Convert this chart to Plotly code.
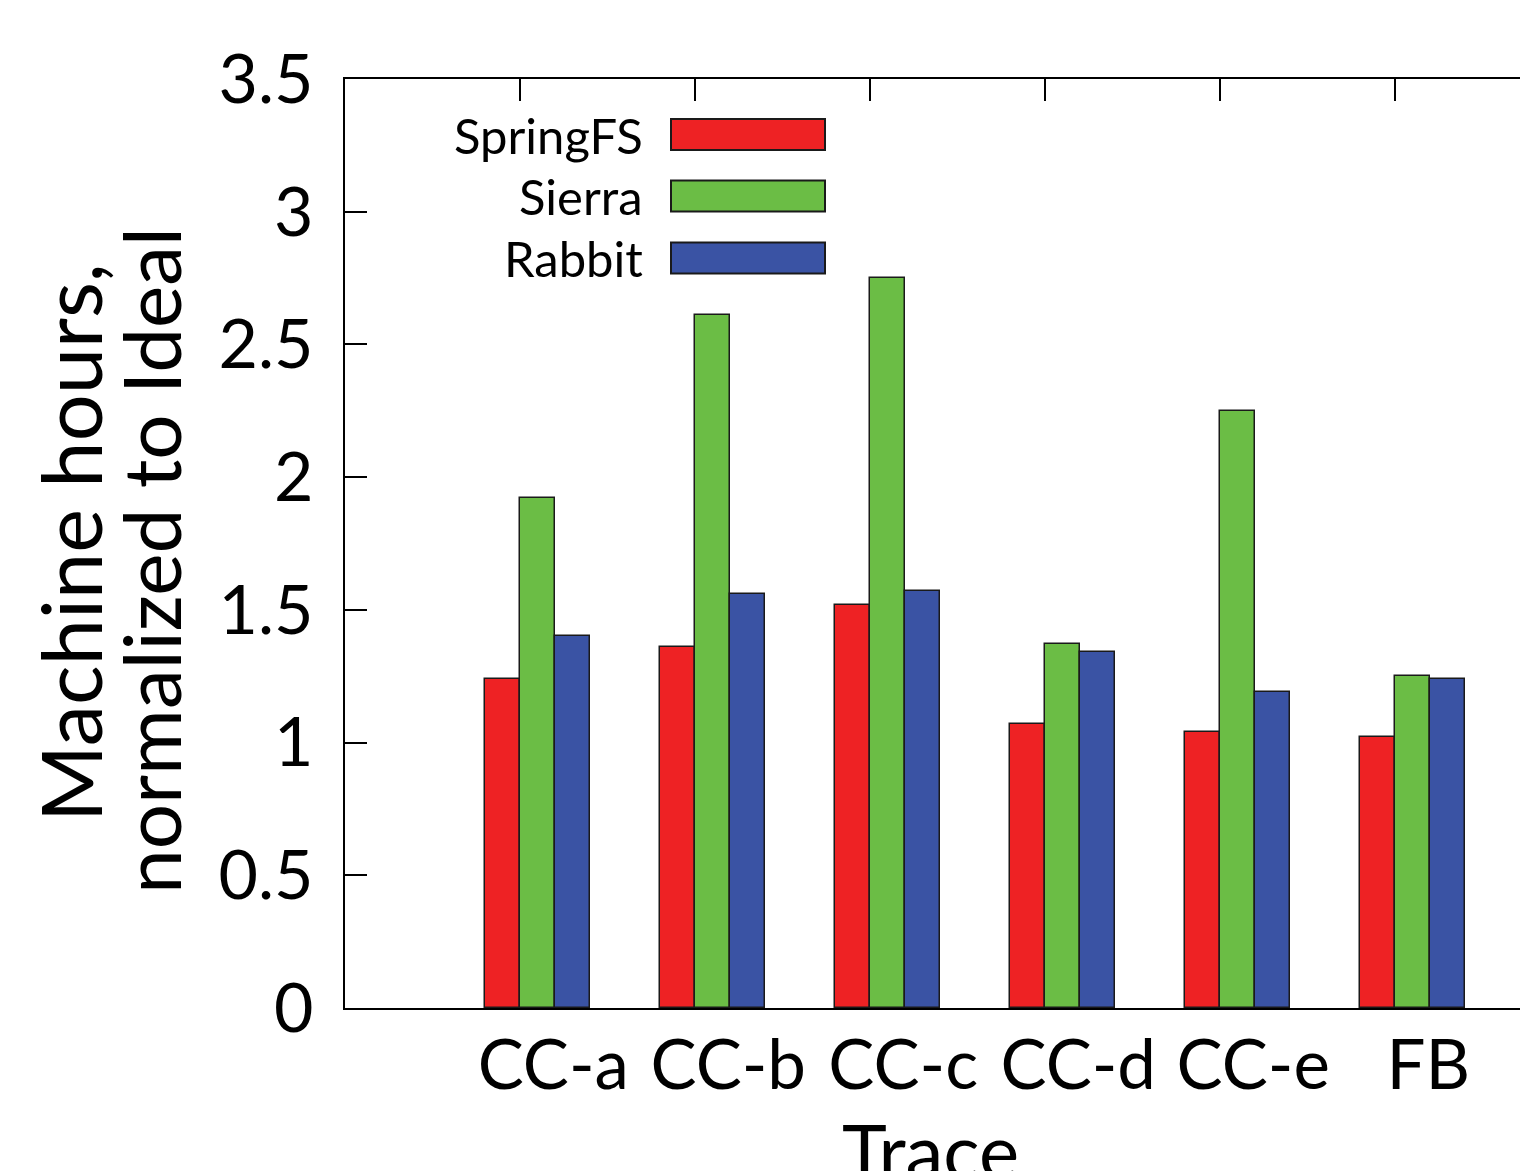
import plotly.graph_objects as go

# ---- data ----
traces = ["CC-a", "CC-b", "CC-c", "CC-d", "CC-e", "FB"]
springfs = [1.24, 1.36, 1.52, 1.07, 1.04, 1.02]
sierra = [1.92, 2.61, 2.75, 1.37, 2.25, 1.25]
rabbit = [1.40, 1.56, 1.57, 1.34, 1.19, 1.24]
series_names = ["SpringFS", "Sierra", "Rabbit"]
y_ticks = [0, 0.5, 1, 1.5, 2, 2.5, 3, 3.5]
y_ticktext = ["0", "0.5", "1", "1.5", "2", "2.5", "3", "3.5"]

colors = ["#EE2224", "#6BBD45", "#3A53A4"]
FONT = "Lato"

W, H = 1520, 1171
L, T, R, B = 345, 79, 0, 163
pw, ph = W - L - R, H - T - B
unit_px = 175.0


def px(x):
    return (x - L) / pw


def py(y):
    return (H - B - y) / ph


pos = list(range(len(traces)))
fig = go.Figure()
for vals, name, col, off in zip([springfs, sierra, rabbit], series_names, colors, [-0.2, 0.0, 0.2]):
    fig.add_trace(go.Bar(
        x=pos, y=vals, name=name, width=0.2, offset=off,
        marker=dict(color=col, line=dict(color="#1a1a1a", width=1.5)),
        showlegend=False,
    ))

# carrier for top axis ticks
fig.add_trace(go.Scatter(x=[pos[0]], y=[0], xaxis="x2", mode="markers",
                         marker=dict(opacity=0), showlegend=False, hoverinfo="skip"))

xr = [-1, -1 + pw / unit_px]

fig.update_layout(
    width=W, height=H,
    margin=dict(l=L, r=R, t=T, b=B, pad=0),
    paper_bgcolor="white", plot_bgcolor="white",
    font=dict(family=FONT, color="black"),
    bargap=0,
    xaxis=dict(range=xr, tickvals=[p + 0.19 for p in pos], ticktext=traces,
               ticks="", showline=True, linecolor="black", linewidth=2,
               showgrid=False, zeroline=False, tickfont=dict(size=69, family=FONT),
               ticklabelstandoff=-4),
    xaxis2=dict(range=xr, overlaying="x", side="top", tickvals=pos,
                ticks="inside", ticklen=22, tickwidth=2, tickcolor="black",
                showticklabels=False, showline=True, linecolor="black", linewidth=2,
                showgrid=False, zeroline=False),
    yaxis=dict(range=[0, 3.5], tickvals=y_ticks, ticktext=y_ticktext,
               ticks="inside", ticklen=22, tickwidth=2, tickcolor="black",
               showline=True, linecolor="black", linewidth=2, showgrid=False,
               zeroline=False, tickfont=dict(size=68, family=FONT),
               ticklabelstandoff=16),
)

# y-axis title (two rotated lines)
fig.add_annotation(text="Machine hours,", xref="paper", yref="paper",
                   x=px(70), y=py(543), xanchor="center", yanchor="middle",
                   textangle=-90, showarrow=False, font=dict(size=83, family=FONT))
fig.add_annotation(text="normalized to Ideal", xref="paper", yref="paper",
                   x=px(150), y=py(561), xanchor="center", yanchor="middle",
                   textangle=-90, showarrow=False, font=dict(size=80, family=FONT))
# x-axis title
fig.add_annotation(text="Trace", xref="paper", yref="paper",
                   x=px(930), y=py(1102), xanchor="center", yanchor="top",
                   showarrow=False, font=dict(size=76, family=FONT))

# legend (text on left, swatch on right)
rows_y = [134.5, 196, 258]
for name, col, yc in zip(series_names, colors, rows_y):
    fig.add_shape(type="rect", xref="paper", yref="paper",
                  x0=px(671), x1=px(825), y0=py(yc - 15.5), y1=py(yc + 15.5),
                  fillcolor=col, line=dict(color="#1a1a1a", width=2))
    fig.add_annotation(text=name, xref="paper", yref="paper",
                       x=px(645), y=py(yc), xanchor="right", yanchor="middle",
                       showarrow=False, font=dict(size=49, family=FONT))

fig.write_html("out.html", config={"displayModeBar": False},
               post_script="document.body.style.margin='0';")
